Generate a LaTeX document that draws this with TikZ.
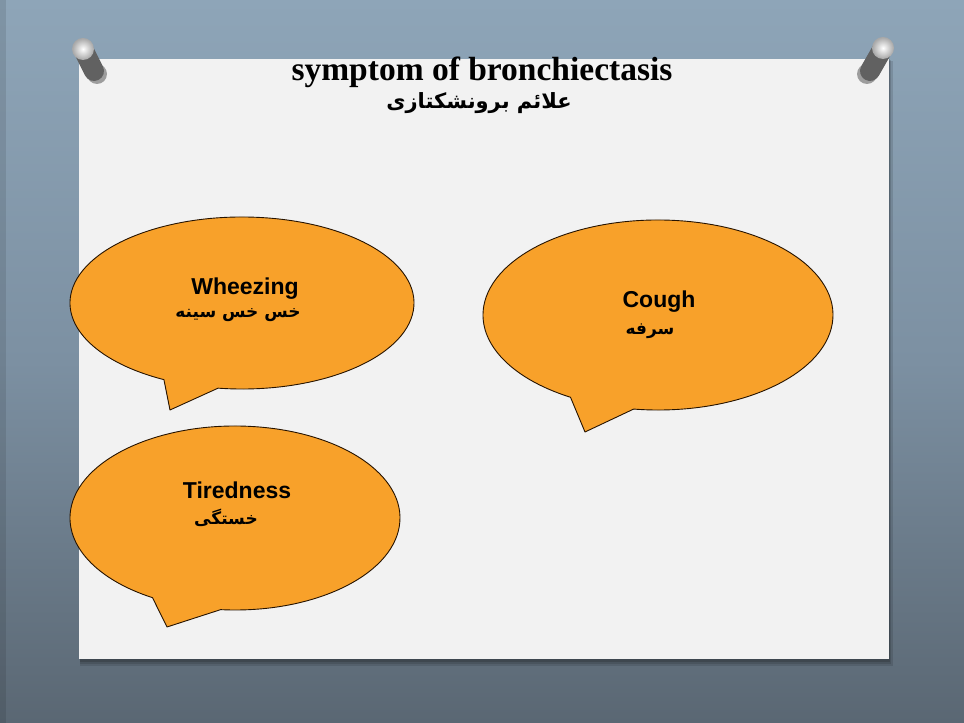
\documentclass[tikz,border=0pt]{standalone}
\usepackage{fontspec}
\setmainfont{Liberation Sans}
\newfontfamily\titlefont{Liberation Serif}
\newfontfamily\arabicfont[Script=Arabic]{DejaVu Sans}
\TeXXeTstate=1
\definecolor{bubblefill}{HTML}{F8A12A}
\definecolor{paper}{HTML}{F2F2F2}
\definecolor{slatetop}{HTML}{8EA5B8}
\definecolor{slatemid}{HTML}{7C90A2}
\definecolor{slatebot}{HTML}{5A6773}
\tikzset{
  bubble/.style={fill=bubblefill, draw=black!85!orange, line width=0.9pt, line join=round},
  en/.style={font=\fontsize{23}{26}\selectfont\bfseries, inner sep=0pt},
  fa/.style={font=\arabicfont\fontsize{17}{20}\selectfont\bfseries, inner sep=0pt},
  pinbody/.style={line width=20pt, line cap=round, draw=black!62},
  pinhead/.style={inner color=white, outer color=black!35}
}
\begin{document}
\begin{tikzpicture}[x=1pt,y=1pt]
\useasboundingbox (0,0) rectangle (964,723);
% background
\shade[top color=slatetop, bottom color=slatebot, middle color=slatemid] (0,0) rectangle (964,723);
\fill[black, opacity=0.10] (0,0) rectangle (6,723);
% paper shadow and paper
\fill[black, opacity=0.12] (80,57) rectangle (893,662);
\fill[black, opacity=0.12] (80,59) rectangle (891,663);
\fill[black, opacity=0.15] (80,61) rectangle (890,664);
\fill[paper] (79,64) rectangle (889,664);
% pins
\fill[black, opacity=0.35] (97,649) circle (10);
\draw[pinbody] (84,672) -- (94,652);
\shade[pinhead] (83,674) circle (11);
\fill[black, opacity=0.35] (867,649) circle (10);
\draw[pinbody] (882,673) -- (870,652);
\shade[pinhead] (883,675) circle (11);
% title
\node[font=\titlefont\fontsize{33.5}{38}\selectfont\bfseries, inner sep=0pt] (title) at (482,651) {symptom of bronchiectasis};
\node[font=\arabicfont\fontsize{21}{25}\selectfont\bfseries, inner sep=0pt] (titlefa) at (479,620) {\beginR علائم برونشکتازی\endR};
% Wheezing bubble
\filldraw[bubble] (242,420) ++(262:172 and 86) arc[start angle=262,end angle=603,x radius=172,y radius=86] -- (170,313) -- cycle;
\node[en] (wheez) at (245,434) {Wheezing};
\node[fa] (wheezfa) at (238,408) {\beginR خس خس سینه\endR};
% Cough bubble
\filldraw[bubble] (658,408) ++(262:175 and 95) arc[start angle=262,end angle=600,x radius=175,y radius=95] -- (585,291) -- cycle;
\node[en] (cough) at (659,421) {Cough};
\node[fa] (coughfa) at (650,392) {\beginR سرفه\endR};
% Tiredness bubble
\filldraw[bubble] (235,205) ++(265:165 and 92) arc[start angle=265,end angle=600,x radius=165,y radius=92] -- (167,96) -- cycle;
\node[en] (tired) at (237,233) {Tiredness};
\node[fa] (tiredfa) at (226,205) {\beginR خستگی\endR};
\end{tikzpicture}
\end{document}
